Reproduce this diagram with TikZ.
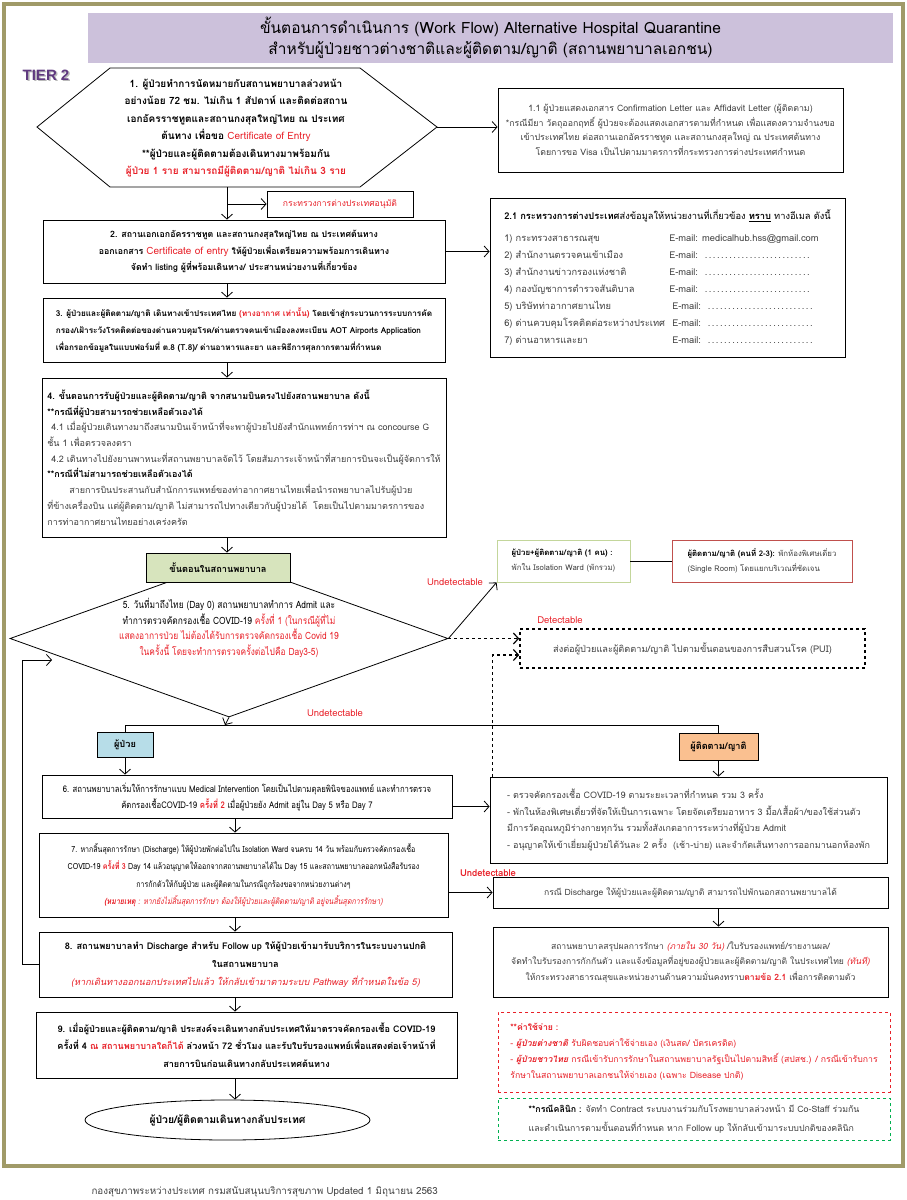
\documentclass[tikz,border=0pt]{standalone}
\usepackage{fontspec}
\setmainfont[Script=Thai]{Loma}
\newfontfamily\condfont[Script=Thai,FakeStretch=0.84]{Loma}
\newfontfamily\tierfont{Liberation Sans}
\usetikzlibrary{shapes.geometric,arrows.meta}
\definecolor{framecol}{RGB}{160,154,104}
\definecolor{headfill}{RGB}{204,193,219}
\definecolor{tierpurple}{RGB}{96,58,128}
\definecolor{alert}{RGB}{232,32,40}
\definecolor{txtgray}{RGB}{64,64,64}
\definecolor{stepgreen}{RGB}{215,228,189}
\definecolor{patblue}{RGB}{183,221,232}
\definecolor{relorange}{RGB}{250,192,144}
\definecolor{isogreen}{RGB}{195,214,155}
\definecolor{roomred}{RGB}{192,80,77}
\definecolor{clinicgreen}{RGB}{0,176,80}
\newcommand{\hotred}[1]{\textcolor{alert}{#1}}
\newcommand{\darkb}[1]{\textcolor{black}{\bfseries #1}}
\newcommand{\mailrow}[2]{\makebox[165pt][l]{#1}#2}
\newcommand{\maildots}{E-mail: \makebox[110pt]{\dotfill}}

\tikzset{
  flow/.style={draw, line width=0.8pt, fill=white, inner sep=2pt},
  bodyb/.style={font=\bfseries\fontsize{9.2}{16.5}\selectfont},
  bodyn/.style={font=\fontsize{8.6}{15}\selectfont, text=txtgray},
  arr/.style={-{Straight Barb[length=5pt,width=11pt]}, line width=0.8pt},
  tag/.style={font=\fontsize{9.5}{10}\selectfont, text=alert},
}

\begin{document}
\begin{tikzpicture}[x=1pt,y=-1pt]
  \useasboundingbox (0,0) rectangle (907,1200);
  \draw[framecol, line width=3.5pt] (4,4) rectangle (903,1166);
  \node[fill=headfill, minimum width=805pt, minimum height=50pt, align=center,
        font=\fontsize{15.5}{21}\selectfont] (head) at (490.5,38)
    {ขั้นตอนการดำเนินการ (Work Flow) Alternative Hospital Quarantine\\
     สำหรับผู้ป่วยชาวต่างชาติและผู้ติดตาม/ญาติ (สถานพยาบาลเอกชน)};
  \node[text=gray!55, font=\tierfont\bfseries\fontsize{15}{15}\selectfont] (tiershadow) at (47.5,76.5) {TIER 2};
  \node[text=tierpurple, font=\tierfont\bfseries\fontsize{15}{15}\selectfont] (tier) at (46,75) {TIER 2};
  \coordinate (spine) at (235,0);

  % step 1
  \draw[line width=0.8pt] (37,127) -- (110,68) -- (360,68) -- (437,127) coordinate (s1e)
    -- (360,187) -- (110,187) -- cycle;
  \coordinate (s1s) at (227,187);
  \node[align=center, font=\bfseries\fontsize{10}{17.5}\selectfont] (s1) at (236,128)
    {1. ผู้ป่วยทำการนัดหมายกับสถานพยาบาลล่วงหน้า\\
     อย่างน้อย 72 ชม. ไม่เกิน 1 สัปดาห์ และติดต่อสถาน\\
     เอกอัครราชทูตและสถานกงสุลใหญ่ไทย ณ ประเทศ\\
     ต้นทาง เพื่อขอ \hotred{\mdseries Certificate of Entry}\\
     **ผู้ป่วยและผู้ติดตามต้องเดินทางมาพร้อมกัน\\
     \hotred{ผู้ป่วย 1 ราย สามารถมีผู้ติดตาม/ญาติ ไม่เกิน 3 ราย}};
  \node[flow, bodyn, align=center, minimum width=345pt, minimum height=84pt,
        font=\fontsize{8.8}{14.5}\selectfont] (b11) at (670.5,130)
    {1.1 ผู้ป่วยแสดงเอกสาร Confirmation Letter และ Affidavit Letter (ผู้ติดตาม)\\
     *กรณีมียา วัตถุออกฤทธิ์ ผู้ป่วยจะต้องแสดงเอกสารตามที่กำหนด เพื่อแสดงความจำนงขอ\\
     เข้าประเทศไทย ต่อสถานเอกอัครราชทูต และสถานกงสุลใหญ่ ณ ประเทศต้นทาง\\
     โดยการขอ Visa เป็นไปตามมาตรการที่กระทรวงการต่างประเทศกำหนด};
  \node[flow, tag, font=\fontsize{8.6}{10}\selectfont, minimum width=146pt, minimum height=26pt] (mfa) at (340,204)
    {กระทรวงการต่างประเทศอนุมัติ};

  % step 2
  \node[flow, bodyb, align=center, minimum width=402pt, minimum height=63pt,
        font=\bfseries\fontsize{8.8}{16.5}\selectfont] (s2) at (244,251.5)
    {2. สถานเอกเอกอัครราชทูต และสถานกงสุลใหญ่ไทย ณ ประเทศต้นทาง\\
     ออกเอกสาร \hotred{\mdseries\fontsize{10}{16.5}\selectfont Certificate of entry} ให้ผู้ป่วยเพื่อเตรียมความพร้อมการเดินทาง\\
     จัดทำ listing ผู้ที่พร้อมเดินทาง/ ประสานหน่วยงานที่เกี่ยวข้อง};
  \node[flow, bodyn, align=left, minimum width=355pt, minimum height=159pt,
        font=\fontsize{9.3}{17}\selectfont] (b21) at (667.5,277.5)
    {\darkb{2.1 กระทรวงการต่างประเทศ}\textcolor{black}{ส่งข้อมูลให้หน่วยงานที่เกี่ยวข้อง \darkb{\underline{ทราบ}} ทางอีเมล ดังนี้}\\[5pt]
     \mailrow{1) กระทรวงสาธารณสุข}{E-mail: medicalhub.hss@gmail.com}\\
     \mailrow{2) สำนักงานตรวจคนเข้าเมือง}{\maildots}\\
     \mailrow{3) สำนักงานข่าวกรองแห่งชาติ}{\maildots}\\
     \mailrow{4) กองบัญชาการตำรวจสันติบาล}{\maildots}\\
     \mailrow{5) บริษัทท่าอากาศยานไทย}{\hspace{3pt}\maildots}\\
     \mailrow{6) ด่านควบคุมโรคติดต่อระหว่างประเทศ}{\hspace{3pt}\maildots}\\
     \mailrow{7) ด่านอาหารและยา}{\hspace{3pt}\maildots}};

  % steps 3 and 4
  \node[flow, align=left, minimum width=402pt, minimum height=64pt,
        font=\bfseries\fontsize{8.2}{17}\selectfont] (s3) at (244,330)
    {3. ผู้ป่วยและผู้ติดตาม/ญาติ เดินทางเข้าประเทศไทย \hotred{(ทางอากาศ เท่านั้น)} โดยเข้าสู่กระบวนการระบบการคัด\\
     กรอง/เฝ้าระวังโรคติดต่อของด่านควบคุมโรค/ด่านตรวจคนเข้าเมืองลงทะเบียน AOT Airports Application\\
     เพื่อกรอกข้อมูลในแบบฟอร์มที่ ต.8 (T.8)/ ด่านอาหารและยา และพิธีการศุลกากรตามที่กำหนด};
  \node[flow, bodyn, align=left, minimum width=404pt, minimum height=159pt,
        font=\fontsize{9}{15.7}\selectfont] (s4) at (244,457.5)
    {\darkb{4. ขั้นตอนการรับผู้ป่วยและผู้ติดตาม/ญาติ จากสนามบินตรงไปยังสถานพยาบาล ดังนี้}\\
     \darkb{**กรณีที่ผู้ป่วยสามารถช่วยเหลือตัวเองได้}\\
     \hspace*{4pt}4.1 เมื่อผู้ป่วยเดินทางมาถึงสนามบินเจ้าหน้าที่จะพาผู้ป่วยไปยังสำนักแพทย์การท่าฯ ณ concourse G\\
     ชั้น 1 เพื่อตรวจลงตรา\\
     \hspace*{4pt}4.2 เดินทางไปยังยานพาหนะที่สถานพยาบาลจัดไว้ โดยสัมภาระเจ้าหน้าที่สายการบินจะเป็นผู้จัดการให้\\
     \darkb{**กรณีที่ไม่สามารถช่วยเหลือตัวเองได้}\\
     \hspace*{22pt}สายการบินประสานกับสำนักการแพทย์ของท่าอากาศยานไทยเพื่อนำรถพยาบาลไปรับผู้ป่วย\\
     ที่ข้างเครื่องบิน แต่ผู้ติดตาม/ญาติ ไม่สามารถไปทางเดียวกับผู้ป่วยได้~ โดยเป็นไปตามมาตรการของ\\
     การท่าอากาศยานไทยอย่างเคร่งครัด};

  % step 5
  \node[draw, diamond, line width=0.8pt, minimum width=438pt, minimum height=157pt, inner sep=0pt] (d5) at (229,638.5) {};
  \node[flow, bodyb, fill=stepgreen, minimum width=144pt, minimum height=29pt] (hosp) at (218,567.5)
    {ขั้นตอนในสถานพยาบาล};
  \node[align=center, font=\condfont\fontsize{10}{15.5}\selectfont] (t5) at (229,628)
    {5. วันที่มาถึงไทย (Day 0) สถานพยาบาลทำการ Admit และ\\
     ทำการตรวจคัดกรองเชื้อ COVID-19 \hotred{ครั้งที่ 1 (ในกรณีผู้ที่ไม่}\\
     \hotred{แสดงอาการป่วย ไม่ต้องได้รับการตรวจคัดกรองเชื้อ Covid 19}\\
     \hotred{ในครั้งนี้ โดยจะทำการตรวจครั้งต่อไปคือ Day3-5)}};
  \node[flow, draw=isogreen, bodyn, align=left, minimum width=133pt, minimum height=42pt,
        font=\fontsize{7.8}{15}\selectfont] (iso) at (563.5,561)
    {\darkb{ผู้ป่วย+ผู้ติดตาม/ญาติ (1 คน) :}\\พักใน Isolation Ward (พักรวม)};
  \node[flow, draw=roomred, bodyn, align=left, minimum width=180pt, minimum height=42pt,
        font=\fontsize{7.8}{15}\selectfont] (single) at (762,561)
    {\darkb{ผู้ติดตาม/ญาติ (คนที่ 2-3):} พักห้องพิเศษเดี่ยว\\(Single Room) โดยแยกบริเวณที่ชัดเจน};
  \node[flow, bodyn, dashed, line width=1.6pt, minimum width=345pt, minimum height=39pt,
        font=\fontsize{9.2}{12}\selectfont] (pui) at (692.5,648.5)
    {ส่งต่อผู้ป่วยและผู้ติดตาม/ญาติ ไปตามขั้นตอนของการสืบสวนโรค (PUI)};
  \node[tag] (und1) at (455,582) {Undetectable};
  \node[tag] (det) at (560,620) {Detectable};
  \node[tag] (und2) at (335,713) {Undetectable};
  \coordinate (split) at (225,725);
  \coordinate (loopin) at (52,660);

  % patient / relative branches
  \node[flow, bodyb, fill=patblue, minimum width=56pt, minimum height=25pt] (pat) at (125,744.5) {ผู้ป่วย};
  \node[flow, bodyb, fill=relorange, minimum width=79pt, minimum height=27pt] (rel) at (718.5,746.5) {ผู้ติดตาม/ญาติ};
  \node[flow, align=center, minimum width=410pt, minimum height=43pt,
        font=\condfont\fontsize{9.2}{16}\selectfont] (s6) at (247,796.5)
    {6. สถานพยาบาลเริ่มให้การรักษาแบบ Medical Intervention โดยเป็นไปตามดุลยพินิจของแพทย์ และทำการตรวจ\\
     คัดกรองเชื้อCOVID-19 \hotred{\bfseries ครั้งที่ 2} เมื่อผู้ป่วยยัง Admit อยู่ใน Day 5 หรือ Day 7};
  \node[flow, bodyn, align=left, minimum width=397pt, minimum height=86pt,
        font=\fontsize{9}{16.5}\selectfont] (r6) at (688.5,820)
    {- ตรวจคัดกรองเชื้อ COVID-19 ตามระยะเวลาที่กำหนด รวม 3 ครั้ง\\
     - พักในห้องพิเศษเดี่ยวที่จัดให้เป็นการเฉพาะ โดยจัดเตรียมอาหาร 3 มื้อ/เสื้อผ้า/ของใช้ส่วนตัว\\
     มีการวัดอุณหภูมิร่างกายทุกวัน รวมทั้งสังเกตอาการระหว่างที่ผู้ป่วย Admit\\
     - อนุญาตให้เข้าเยี่ยมผู้ป่วยได้วันละ 2 ครั้ง~ (เช้า-บ่าย) และจำกัดเส้นทางการออกมานอกห้องพัก};
  \node[flow, align=center, minimum width=409pt, minimum height=84pt,
        font=\condfont\fontsize{8.4}{17.5}\selectfont] (s7) at (243.5,875)
    {7. หากสิ้นสุดการรักษา (Discharge) ให้ผู้ป่วยพักต่อไปใน Isolation Ward จนครบ 14 วัน พร้อมกับตรวจคัดกรองเชื้อ\\
     COVID-19 \hotred{\bfseries ครั้งที่ 3} Day 14 แล้วอนุญาตให้ออกจากสถานพยาบาลได้ใน Day 15 และสถานพยาบาลออกหนังสือรับรอง\\
     การกักตัวให้กับผู้ป่วย และผู้ติดตามในกรณีถูกร้องขอจากหน่วยงานต่างๆ\\
     \hotred{\itshape\bfseries (หมายเหตุ}\hotred{\itshape\ : หากยังไม่สิ้นสุดการรักษา ต้องให้ผู้ป่วยและผู้ติดตาม/ญาติ อยู่จนสิ้นสุดการรักษา)}};
  \node[flow, bodyn, minimum width=395pt, minimum height=31pt] (dis) at (690.5,892.5)
    {กรณี Discharge ให้ผู้ป่วยและผู้ติดตาม/ญาติ สามารถไปพักนอกสถานพยาบาลได้};
  \node[tag, font=\bfseries\fontsize{9.5}{10}\selectfont] (und3) at (488,873) {Undetectable};
  \node[flow, bodyn, align=center, minimum width=395pt, minimum height=70pt,
        font=\fontsize{8.6}{15.5}\selectfont] (sum) at (690.5,962)
    {สถานพยาบาลสรุปผลการรักษา \hotred{\itshape (ภายใน 30 วัน)} /ใบรับรองแพทย์/รายงานผล/\\
     จัดทำใบรับรองการกักกันตัว และแจ้งข้อมูลที่อยู่ของผู้ป่วยและผู้ติดตาม/ญาติ ในประเทศไทย \hotred{\itshape (ทันที)}\\
     ให้กระทรวงสาธารณสุขและหน่วยงานด้านความมั่นคงทราบ\hotred{\bfseries ตามข้อ 2.1} เพื่อการติดตามตัว};
  \node[flow, draw=alert, dashed, line width=0.7pt, text=alert, align=left, minimum width=392pt, minimum height=80pt,
        font=\fontsize{8.7}{16}\selectfont] (cost) at (694,1052)
    {\textbf{**ค่าใช้จ่าย :}\\
     - \textbf{\itshape ผู้ป่วยต่างชาติ} รับผิดชอบค่าใช้จ่ายเอง (เงินสด/ บัตรเครดิต)\\
     - \textbf{\itshape ผู้ป่วยชาวไทย} กรณีเข้ารับการรักษาในสถานพยาบาลรัฐเป็นไปตามสิทธิ์ (สปสช.) / กรณีเข้ารับการ\\
     รักษาในสถานพยาบาลเอกชนให้จ่ายเอง (เฉพาะ Disease ปกติ)};
  \node[flow, draw=clinicgreen, dashed, line width=0.7pt, bodyn, align=left, minimum width=392pt, minimum height=42pt,
        font=\fontsize{8.8}{18.5}\selectfont] (clinic) at (694,1119)
    {\darkb{**กรณีคลินิก :} จัดทำ Contract ระบบงานร่วมกับโรงพยาบาลล่วงหน้า มี Co-Staff ร่วมกัน\\
     และดำเนินการตามขั้นตอนที่กำหนด หาก Follow up ให้กลับเข้ามาระบบปกติของคลินิก};

  % steps 8 and 9
  \node[flow, align=center, minimum width=413pt, minimum height=65pt,
        font=\bfseries\fontsize{9.2}{18}\selectfont] (s8) at (245.5,964.5)
    {8. สถานพยาบาลทำ Discharge สำหรับ Follow up ให้ผู้ป่วยเข้ามารับบริการในระบบงานปกติ\\
     ในสถานพยาบาล\\
     \hotred{\mdseries\itshape (หากเดินทางออกนอกประเทศไปแล้ว ให้กลับเข้ามาตามระบบ Pathway ที่กำหนดในข้อ 5)}};
  \node[flow, align=center, minimum width=421pt, minimum height=66pt,
        font=\bfseries\fontsize{9.1}{17.5}\selectfont] (s9) at (246.5,1045)
    {9. เมื่อผู้ป่วยและผู้ติดตาม/ญาติ ประสงค์จะเดินทางกลับประเทศให้มาตรวจคัดกรองเชื้อ COVID-19\\
     ครั้งที่ 4 \hotred{ณ สถานพยาบาลใดก็ได้} ล่วงหน้า 72 ชั่วโมง และรับใบรับรองแพทย์เพื่อแสดงต่อเจ้าหน้าที่\\
     สายการบินก่อนเดินทางกลับประเทศต้นทาง};
  \node[flow, ellipse, minimum width=285pt, minimum height=40pt,
        font=\bfseries\fontsize{10.4}{12}\selectfont] (fin) at (227.5,1120)
    {ผู้ป่วย/ผู้ติดตามเดินทางกลับประเทศ};
  \node[anchor=west, text=txtgray, font=\fontsize{9.8}{10}\selectfont] (foot) at (88,1192)
    {กองสุขภาพระหว่างประเทศ กรมสนับสนุนบริการสุขภาพ Updated 1 มิถุนายน 2563};

  % connectors
  \draw[arr] (s1e) -- (s1e -| b11.west);
  \draw[arr] (s1s) -- (s1s |- s2.north);
  \draw[arr] (s1s |- mfa.west) -- (mfa.west);
  \draw[arr] (s2.east) -- (s2.east -| b21.west);
  \draw[arr] (s2.south -| s1s) -- (s3.north -| s1s);
  \draw[arr] (s3.south -| s1s) -- (s4.north -| s1s);
  \draw[arr] (s4.south -| s1s) -- (hosp.north -| s1s);
  \draw[arr] (d5.east) -- (iso.south west);
  \draw[line width=0.8pt] (iso.east) -- (single.west);
  \draw[arr, dashed, line width=1.2pt] (d5.east) -- (d5.east -| pui.west);
  \draw[arr] (d5.south) -- (split);
  \draw[line width=0.8pt] (pat.north) |- (split) -| (rel.north);
  \draw[arr] (pat.south) -- (pat.south |- s6.north);
  \draw[arr] (rel.south) -- (rel.south |- r6.north);
  \draw[arr] ([yshift=-10pt]s6.east) -- ([yshift=-10pt]s6.east -| r6.west);
  \draw[arr, dashed, line width=1.2pt] ([xshift=3pt]r6.north west) |- ([yshift=-6.5pt]pui.west);
  \draw[arr] (s6.south -| spine) -- (s7.north -| spine);
  \draw[arr] (s7.east |- dis.west) -- (dis.west);
  \draw[arr] (dis.south -| rel) -- (sum.north -| rel);
  \draw[arr] (s7.south -| spine) -- (s8.north -| spine);
  \draw[arr] (s8.south -| spine) -- (s9.north -| spine);
  \draw[arr] (s9.south -| spine) -- (fin.north -| spine);
  \draw[arr] (s8.west) -- ++(-16,0) |- (loopin);
\end{tikzpicture}
\end{document}
